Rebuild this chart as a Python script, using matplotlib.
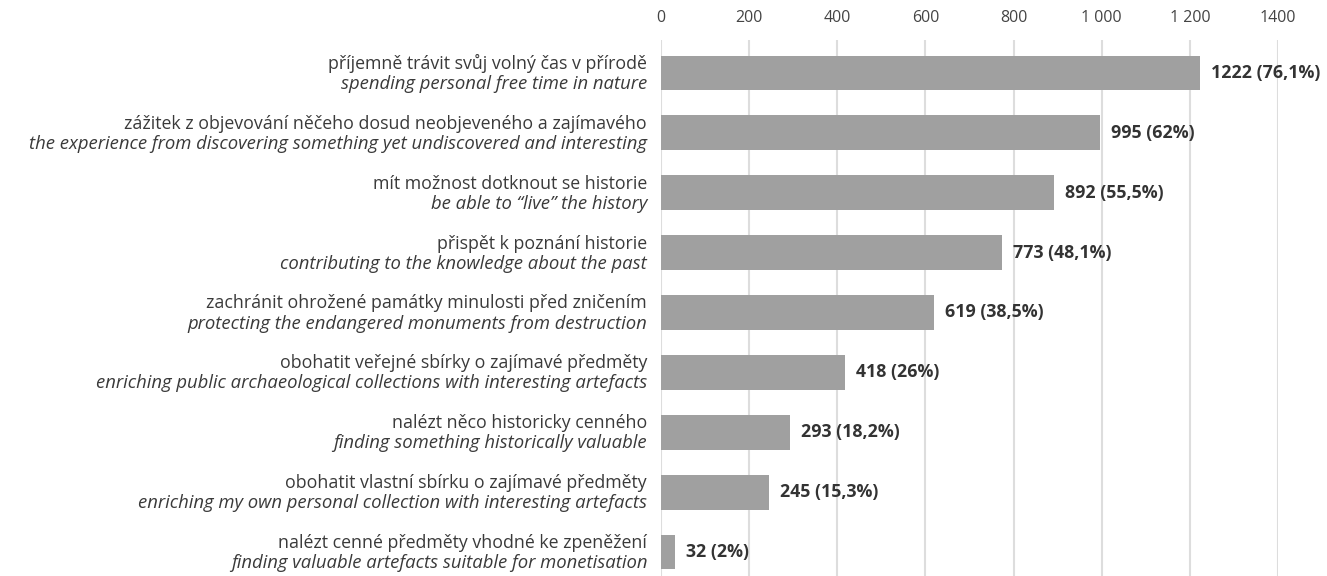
import matplotlib
matplotlib.use("Agg")
import matplotlib.pyplot as plt

labels_cz = [
    "příjemně trávit svůj volný čas v přírodě",
    "zážitek z objevování něčeho dosud neobjeveného a zajímavého",
    "mít možnost dotknout se historie",
    "přispět k poznání historie",
    "zachránit ohrožené památky minulosti před zničením",
    "obohatit veřejné sbírky o zajímavé předměty",
    "nalézt něco historicky cenného",
    "obohatit vlastní sbírku o zajímavé předměty",
    "nalézt cenné předměty vhodné ke zpeněžení",
]
labels_en = [
    "spending personal free time in nature",
    "the experience from discovering something yet undiscovered and interesting",
    "be able to \u201clive\u201d the history",
    "contributing to the knowledge about the past",
    "protecting the endangered monuments from destruction",
    "enriching public archaeological collections with interesting artefacts",
    "finding something historically valuable",
    "enriching my own personal collection with interesting artefacts",
    "finding valuable artefacts suitable for monetisation",
]
values = [1222, 995, 892, 773, 619, 418, 293, 245, 32]
percents = ["76,1%", "62%", "55,5%", "48,1%", "38,5%", "26%", "18,2%", "15,3%", "2%"]
tick_values = [0, 200, 400, 600, 800, 1000, 1200, 1400]
tick_labels = ["0", "200", "400", "600", "800", "1 000", "1 200", "1400"]

plt.rcParams['font.family'] = ['Open Sans', 'DejaVu Sans']

fig = plt.figure(figsize=(13.27, 5.76), dpi=100)
ax = fig.add_axes([661/1327, 0.0, (1278-661)/1327, 1 - 40/576])

y = list(range(len(values)))
ax.barh(y, values, height=0.58, color="#a0a0a0", zorder=2)
ax.set_ylim(8.4, -0.55)
ax.set_xlim(0, 1400)

ax.set_xticks(tick_values)
ax.set_xticklabels(tick_labels, fontsize=11.5, color="#444444")
ax.xaxis.tick_top()
ax.tick_params(axis='x', length=0, pad=10)
ax.set_yticks([])
for s in ax.spines.values():
    s.set_visible(False)
ax.grid(axis='x', color="#dddddd", linewidth=1.5, zorder=0)
ax.set_axisbelow(True)

for i, (v, p) in enumerate(zip(values, percents)):
    ax.annotate(f"{v} ({p})", xy=(v, i), xytext=(8, 0), textcoords="offset points",
                ha="left", va="center", fontsize=12.8, fontweight="bold", color="#333333")
    ax.annotate(labels_cz[i], xy=(0, i), xycoords=('axes fraction', 'data'),
                xytext=(-10, 6.5), textcoords="offset points",
                ha="right", va="center", fontsize=12.8, color="#3a3a3a")
    ax.annotate(labels_en[i], xy=(0, i), xycoords=('axes fraction', 'data'),
                xytext=(-10, -8), textcoords="offset points",
                ha="right", va="center", fontsize=13.3, style="italic", color="#3a3a3a")

fig.savefig("out.png", dpi=100)
